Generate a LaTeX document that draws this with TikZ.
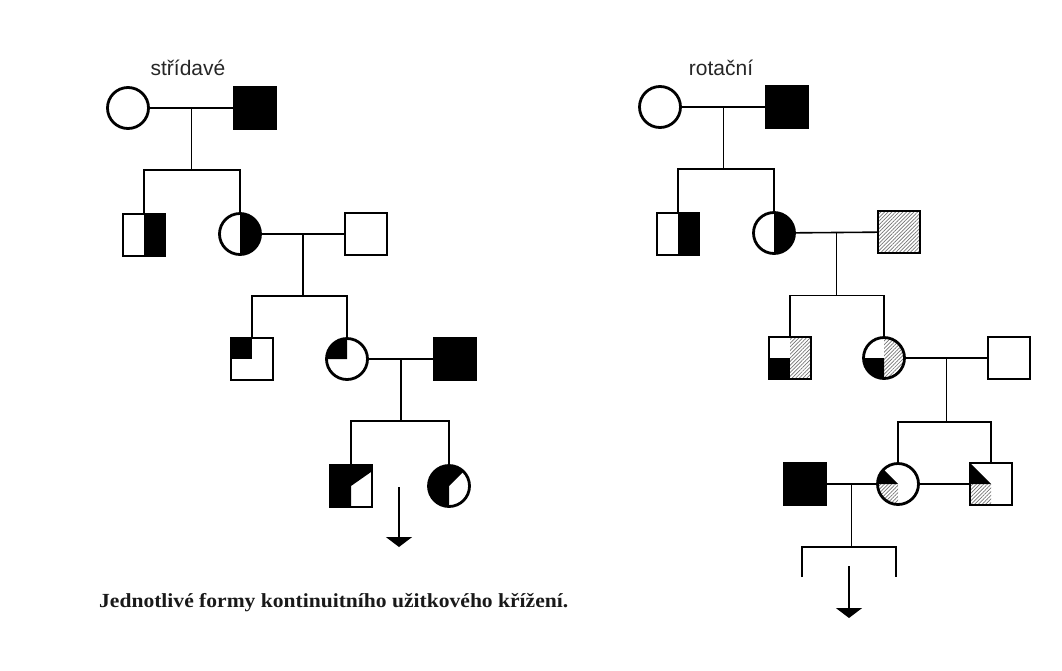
\documentclass[tikz,border=0pt]{standalone}
\usepackage{fontspec}
\setmainfont{Liberation Serif}
\newfontfamily\labelfont{Liberation Sans}
\usetikzlibrary{arrows.meta,patterns.meta,backgrounds,calc}

\begin{document}
\begin{tikzpicture}[x=1pt,y=1pt,
  male/.style={draw, line width=2.8pt, rectangle, minimum size=42pt, inner sep=0pt, outer sep=0pt},
  female/.style={draw, line width=2.8pt, circle, minimum size=41pt, inner sep=0pt, outer sep=0pt},
  link/.style={line width=1.6pt},
  hatch/.style={pattern={Lines[angle=45,distance=2.6pt,line width=0.7pt]}, pattern color=black!55},
  descent/.style={line width=1.6pt, -{Triangle[width=26pt,length=10pt]}},
  title/.style={font=\labelfont\fontsize{21}{24}\selectfont, text=black!85},
  caption/.style={font=\bfseries\fontsize{20}{24}\selectfont, anchor=west, inner sep=0pt, text=black!90}
]
\useasboundingbox (0,0) rectangle (1062,-670);
\def\rr{20.5}

% ---------------- alternating crossing ----------------
\node[title] (tA) at (188,-68) {střídavé};

\node[female] (A1f) at (128,-108) {};
\node[male]   (A1m) at (255,-108) {};
\node[male]   (A2a) at (144,-235) {};
\node[female] (A2b) at (240,-234) {};
\node[male]   (A2m) at (366,-234) {};
\node[male]   (A3a) at (252,-359) {};
\node[female] (A3b) at (347,-359) {};
\node[male]   (A3m) at (455,-359) {};
\node[male]   (A4a) at (351,-486) {};
\node[female] (A4b) at (449,-486) {};

\begin{scope}[on background layer]
  \fill (A1m.north west) rectangle (A1m.south east);
  \fill (A2a.north) rectangle (A2a.south east);
  \fill (A2b.center) -- ++(-90:\rr) arc[start angle=-90,end angle=90,radius=\rr] -- cycle;
  \fill (A3a.north west) rectangle (A3a.center);
  \fill (A3b.center) -- ++(90:\rr) arc[start angle=90,end angle=180,radius=\rr] -- cycle;
  \fill (A3m.north west) rectangle (A3m.south east);
  \fill (A4a.north west) -- (A4a.north east) -- ($(A4a.north east)!0.15!(A4a.south east)$)
        -- (A4a.center) -- (A4a.south) -- (A4a.south west) -- cycle;
  \fill (A4b.center) -- ++(45:\rr) arc[start angle=45,end angle=270,radius=\rr] -- cycle;
\end{scope}

\coordinate (Am1) at ($(A1f)!0.5!(A1m)$);
\coordinate (Ad1) at ($(Am1)+(0,-62)$);
\draw[link] (A1f) -- (A1m);
\draw[link] (Am1) -- (Ad1);
\draw[link] (A2a.north) |- (Ad1) -| (A2b.north);

\coordinate (Am2) at ($(A2b)!0.5!(A2m)$);
\coordinate (Ad2) at ($(Am2)+(0,-62)$);
\draw[link] (A2b) -- (A2m);
\draw[link] (Am2) -- (Ad2);
\draw[link] (A3a.north) |- (Ad2) -| (A3b.north);

\coordinate (Am3) at ($(A3b)!0.5!(A3m)$);
\coordinate (Ad3) at ($(Am3)+(0,-62)$);
\draw[link] (A3b) -- (A3m);
\draw[link] (Am3) -- (Ad3);
\draw[link] (A4a.north) |- (Ad3) -| (A4b.north);

\coordinate (Aa1) at (399,-487);
\coordinate (Aa2) at (399,-547);
\draw[descent] (Aa1) -- (Aa2);

% ---------------- rotational crossing ----------------
\node[title] (tB) at (721,-68) {rotační};

\node[female] (B1f) at (660,-107) {};
\node[male]   (B1m) at (787,-107) {};
\node[male]   (B2a) at (678,-234) {};
\node[female] (B2b) at (774,-233) {};
\node[male]   (B2m) at (899,-232) {};
\node[male]   (B3a) at (790,-358) {};
\node[female] (B3b) at (884,-358) {};
\node[male]   (B3m) at (1009,-358) {};
\node[male]   (B4m) at (805,-484) {};
\node[female] (B4a) at (898,-484) {};
\node[male]   (B4b) at (991,-484) {};

\begin{scope}[on background layer]
  \fill (B1m.north west) rectangle (B1m.south east);
  \fill (B2a.north) rectangle (B2a.south east);
  \fill (B2b.center) -- ++(-90:\rr) arc[start angle=-90,end angle=90,radius=\rr] -- cycle;
  \path[hatch] (B2m.north west) rectangle (B2m.south east);
  \fill (B3a.west) rectangle (B3a.south);
  \path[hatch] (B3a.north) rectangle (B3a.south east);
  \fill (B3b.center) -- ++(180:\rr) arc[start angle=180,end angle=270,radius=\rr] -- cycle;
  \path[hatch] (B3b.center) -- ++(-90:\rr) arc[start angle=-90,end angle=90,radius=\rr] -- cycle;
  \fill (B4m.north west) rectangle (B4m.south east);
  \fill (B4a.center) -- ++(135:\rr) arc[start angle=135,end angle=180,radius=\rr] -- cycle;
  \path[hatch] (B4a.center) -- ++(180:\rr) arc[start angle=180,end angle=270,radius=\rr] -- cycle;
  \fill (B4b.north west) -- (B4b.center) -- (B4b.west) -- cycle;
  \path[hatch] (B4b.west) rectangle (B4b.south);
\end{scope}

\coordinate (Bm1) at ($(B1f)!0.5!(B1m)$);
\coordinate (Bd1) at ($(Bm1)+(0,-62)$);
\draw[link] (B1f) -- (B1m);
\draw[link] (Bm1) -- (Bd1);
\draw[link] (B2a.north) |- (Bd1) -| (B2b.north);

\coordinate (Bm2) at ($(B2b)!0.5!(B2m)$);
\coordinate (Bd2) at ($(Bm2)+(0,-63)$);
\draw[link] (B2b) -- (B2m);
\draw[link] (Bm2) -- (Bd2);
\draw[link] (B3a.north) |- (Bd2) -| (B3b.north);

\coordinate (Bm3) at ($(B3b)!0.5!(B3m)$);
\coordinate (Bd3) at ($(Bm3)+(0,-64)$);
\draw[link] (B3b) -- (B3m);
\draw[link] (Bm3) -- (Bd3);
\draw[link] (B4a.north) |- (Bd3) -| (B4b.north);

\coordinate (Bm4) at ($(B4m)!0.5!(B4a)$);
\coordinate (Bd4) at ($(Bm4)+(0,-63)$);
\coordinate (Bl1) at (802,-577);
\coordinate (Bl2) at (896,-577);
\draw[link] (B4m) -- (B4a);
\draw[link] (B4a) -- (B4b);
\draw[link] (Bm4) -- (Bd4);
\draw[link] (Bl1) |- (Bd4) -| (Bl2);

\coordinate (Ba1) at (849,-566);
\coordinate (Ba2) at (849,-618);
\draw[descent] (Ba1) -- (Ba2);

% ---------------- caption ----------------
\node[caption] (cap) at (99,-603) {\resizebox{469pt}{\height}{Jednotlivé formy kontinuitního užitkového křížení.}};
\end{tikzpicture}
\end{document}
